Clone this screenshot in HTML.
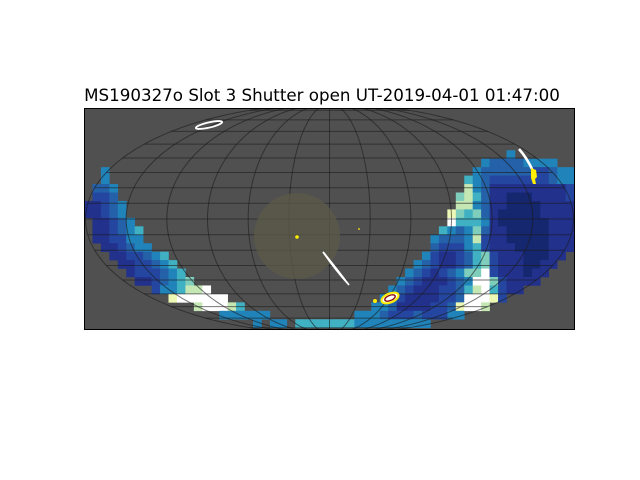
<!DOCTYPE html>
<html><head><meta charset="utf-8">
<style>
html,body{margin:0;padding:0;background:#fff;width:640px;height:480px;overflow:hidden}
svg{display:block}
</style></head>
<body>
<svg id="fig" width="640" height="480" viewBox="0 0 640 480">
  <text x="322" y="101" text-anchor="middle" font-family="DejaVu Sans, Liberation Sans, sans-serif" font-size="16.7" fill="#000">MS190327o Slot 3 Shutter open UT-2019-04-01 01:47:00</text>
  <defs><clipPath id="ax"><rect x="84" y="108" width="491" height="222"/></clipPath></defs>
  <rect x="84" y="108" width="491" height="222" fill="#505050"/>
  <g id="cells" clip-path="url(#ax)"></g>
  <g id="grid" clip-path="url(#ax)"></g>
  <g clip-path="url(#ax)">
    <circle cx="297" cy="236" r="43" fill="#5a5948" opacity="0.8"/>
    <circle cx="297" cy="237" r="1.8" fill="#ffee00"/>
    <circle cx="359" cy="229" r="0.9" fill="#ffee00"/>
    <ellipse cx="209" cy="125" rx="13.5" ry="2.6" transform="rotate(-13 209 125)" fill="none" stroke="#fff" stroke-width="1.8"/>
    <path d="M323,252 Q336,271 349,285 Q337,269 324,253 Z" fill="none" stroke="#fff" stroke-width="1.6"/>
    <path d="M519,149 Q527,158 533,171" fill="none" stroke="#fff" stroke-width="2.6"/>
    <path d="M531,168 L536,170 L537,177 L535,179 L536,184 L533,184 L531,178 Z" fill="#ffee00"/>
    <ellipse cx="390" cy="298" rx="9" ry="4.5" transform="rotate(-22 390 298)" fill="#fff" stroke="#ffee00" stroke-width="2"/>
    <ellipse cx="390" cy="298" rx="5.5" ry="2.6" transform="rotate(-22 390 298)" fill="none" stroke="#8b1010" stroke-width="1.4"/>
    <circle cx="375" cy="301" r="2" fill="#ffee00"/>
  </g>
  <rect x="84.5" y="108.5" width="490" height="221" fill="none" stroke="#000" stroke-width="1"/>
</svg>
<script>
// heatmap rows: [row, startCol, codes]
const cellRows=[7,8,9,10,11,12,13,14,15,16,17,18,19,20,21,22,23,24,25,25,25,
 5,6,7,8,9,10,11,12,13,14,15,16,17,18,19,20,21,22,23,24,25];
const cellStarts=[2,2,1,1,0,0,1,1,1,2,3,4,5,6,8,10,13,16,20,22,25,
 50,47,46,45,45,44,44,43,43,42,41,41,40,39,38,37,36,35,34,32,29];
const cellCodes=["e","e","dde","ccd","bbcde","bbcde","bbcde","bbcdef","bbccee","bbcdee","bbccdef","bbccdef","bcccdef","bbcdefg","ceefhhw","iwwwwww","hwwwhf","eeeeee","e","ee","ffff",
 "e","eddddeeee","eddddddccdee","fedcccccccdee","hedbbbbbbbbbc","ghfdbbaaabbbbc","hhedbbaaaabbbb","igfgdbaaaaabbbb","wfffebaaaaaabbb","fedegdbbaaaaabbb","edddehcbbaaaaabbb","dcccefcbbbaaaabbb","ecbbcdfgcbbbaaabb","edcbbcdfgcbbbaabb","edcbcdeggwcbbbabb","edcbbbcdewwgcbbbb","edcbbbccdfhwfcbb","edcbbbbccdwwwic","eedbbbbccdiwwh","eeedcccdcccee","fffeeeeeeeee"];
const palette={a:"#15276f",b:"#22318c",c:"#2546a0",d:"#2461a9",e:"#2083ba",f:"#40b0c3",g:"#7fcdbb",h:"#c5e7b4",i:"#eef8b5",w:"#ffffff"};
const NS="http://www.w3.org/2000/svg";
const CW=8.45, X0=84, Y0=108;
function colX(c){return X0+c*CW;}
function rowY(r){return Y0+r*CW;}
const cg=document.getElementById('cells');
for(let k=0;k<cellRows.length;k++){
  const s=cellCodes[k];
  for(let j=0;j<s.length;j++){
    const el=document.createElementNS(NS,'rect');
    
    
    el.setAttribute('x',colX(cellStarts[k]+j).toFixed(2));
    el.setAttribute('y',rowY(cellRows[k]).toFixed(2));
    el.setAttribute('width',(CW+0.3).toFixed(2));
    el.setAttribute('height',(CW+0.3).toFixed(2));
    el.setAttribute('fill',palette[s[j]]);
    cg.appendChild(el);
  }
}
// Mollweide grid
const meridians=[-180,-150,-120,-90,-60,-30,0,30,60,90,120,150,180];
const parallels=[-80,-70,-60,-50,-40,-30,-20,-10,0,10,20,30,40,50,60,70,80];
const CX=329.5, CY=219, A=244, B=115;
function theta(phi){let t=phi;for(let i=0;i<50;i++){const f=2*t+Math.sin(2*t)-Math.PI*Math.sin(phi);t-=f/(2+2*Math.cos(2*t));if(Math.abs(phi)>1.5707)break;}return t;}
const gg=document.getElementById('grid');
for(const p of parallels){
  const t=theta(p*Math.PI/180);
  const y=CY-B*Math.sin(t), hw=A*Math.cos(t);
  const el=document.createElementNS(NS,'line');
  
  
  el.setAttribute('x1',CX-hw);el.setAttribute('x2',CX+hw);
  el.setAttribute('y1',y);el.setAttribute('y2',y);
  el.setAttribute('stroke','#1a1a1a');el.setAttribute('stroke-opacity','0.6');el.setAttribute('stroke-width','1');
  gg.appendChild(el);
}
for(const m of meridians){
  let d='';
  for(let i=0;i<=90;i++){
    const t=-Math.PI/2+Math.PI*i/90;
    const x=CX+A*(m/180)*Math.cos(t), y=CY-B*Math.sin(t);
    d+=(i?'L':'M')+x.toFixed(2)+','+y.toFixed(2);
  }
  const el=document.createElementNS(NS,'path');
  
  
  el.setAttribute('d',d);el.setAttribute('fill','none');
  el.setAttribute('stroke','#1a1a1a');el.setAttribute('stroke-opacity','0.6');el.setAttribute('stroke-width','1');
  gg.appendChild(el);
}
</script>
</body></html>
